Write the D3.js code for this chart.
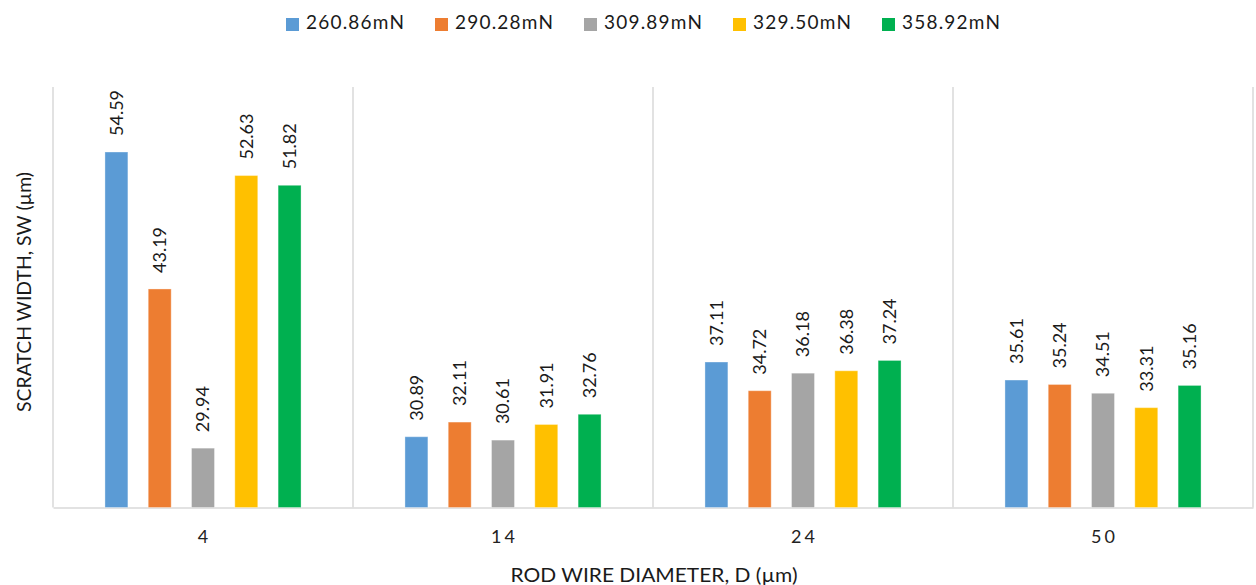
<!DOCTYPE html>
<html>
<head>
<meta charset="utf-8">
<script src="https://cdn.jsdelivr.net/npm/d3@7"></script>
<style>
  html, body { margin: 0; padding: 0; background: #fff; }
  svg { display: block; font-family: Lato, "Open Sans", sans-serif; }
</style>
</head>
<body>
<svg id="chart" width="1256" height="585"></svg>
<script>
// Rod wire diameters (µm) on the category axis
const categories = ["4", "14", "24", "50"];
// Applied normal loads, one bar series each
const seriesNames = ["260.86mN", "290.28mN", "309.89mN", "329.50mN", "358.92mN"];
const seriesColors = ["#5B9BD5", "#ED7D31", "#A5A5A5", "#FFC000", "#00B050"];
// Scratch width (µm) per load, ordered by diameter
const load260 = [54.59, 30.89, 37.11, 35.61];
const load290 = [43.19, 32.11, 34.72, 35.24];
const load309 = [29.94, 30.61, 36.18, 34.51];
const load329 = [52.63, 31.91, 36.38, 33.31];
const load358 = [51.82, 32.76, 37.24, 35.16];
const seriesValues = [load260, load290, load309, load329, load358];
const yDomain = [25, 60];

const svg = d3.select("#chart");
const plot = { left: 53, right: 1253, top: 87, bottom: 507.5 };
const gridColor = "#d9d9d9";

const x0 = d3.scaleBand().domain(categories).range([plot.left, plot.right]).padding(0);
const x1 = d3.scaleBand().domain(seriesNames).range([0, x0.bandwidth()])
  .paddingInner(0.47).paddingOuter(1.2);
const y = d3.scaleLinear().domain(yDomain).range([plot.bottom, plot.top]);

// Vertical separators between category groups
const bounds = categories.map(c => x0(c)).concat([x0(categories[categories.length - 1]) + x0.bandwidth()]);
svg.append("g").selectAll("line").data(bounds).join("line")
  .attr("x1", d => d).attr("x2", d => d)
  .attr("y1", plot.top).attr("y2", plot.bottom)
  .attr("stroke", gridColor).attr("stroke-width", 1.5);

// Category axis
const xAxis = svg.append("g")
  .attr("transform", `translate(0,${plot.bottom})`)
  .call(d3.axisBottom(x0).tickSize(0).tickPadding(0));
xAxis.select(".domain").attr("stroke", gridColor).attr("stroke-width", 1.5);
xAxis.selectAll(".tick text")
  .attr("y", 35)
  .attr("dy", 0)
  .attr("fill", "#222")
  .style("font-size", "18px")
  .style("letter-spacing", "3px")
  .attr("dx", "1.5px")
  .style("font-family", "Lato, 'Open Sans', sans-serif");

// Bars
const rows = categories.map((c, i) => ({
  cat: c,
  vals: seriesNames.map((s, j) => ({ s, j, v: seriesValues[j][i] }))
}));
const groups = svg.append("g").selectAll("g").data(rows).join("g")
  .attr("transform", d => `translate(${x0(d.cat)},0)`);

groups.selectAll("rect").data(d => d.vals).join("rect")
  .attr("x", d => x1(d.s))
  .attr("y", d => y(d.v))
  .attr("width", x1.bandwidth())
  .attr("height", d => y(yDomain[0]) - y(d.v))
  .attr("fill", d => seriesColors[d.j])
  .attr("stroke", "#fff").attr("stroke-opacity", 0.35).attr("stroke-width", 1);

// Value labels, rotated, above each bar
groups.selectAll("text").data(d => d.vals).join("text")
  .attr("transform", d => `translate(${x1(d.s) + x1.bandwidth() / 2},${y(d.v) - 16}) rotate(-90)`)
  .attr("dy", "0.36em")
  .attr("text-anchor", "start")
  .attr("fill", "#1a1a1a")
  .style("font-size", "18px")
  .text(d => d.v.toFixed(2));

// Legend
const legend = svg.append("g").selectAll("g").data(seriesNames).join("g")
  .attr("transform", (d, i) => `translate(${286 + i * 149},0)`);
legend.append("rect")
  .attr("x", 0).attr("y", 18).attr("width", 13).attr("height", 13)
  .attr("fill", (d, i) => seriesColors[i]);
legend.append("text")
  .attr("x", 20).attr("y", 29)
  .attr("fill", "#1a1a1a")
  .style("font-size", "19px")
  .attr("textLength", 98)
  .attr("lengthAdjust", "spacing")
  .text(d => d);

// Axis titles
svg.append("text")
  .attr("x", 654).attr("y", 582)
  .attr("text-anchor", "middle")
  .attr("fill", "#1a1a1a")
  .style("font-size", "19px")
  .attr("textLength", 287)
  .attr("lengthAdjust", "spacingAndGlyphs")
  .text("ROD WIRE DIAMETER, D (µm)");

svg.append("text")
  .attr("transform", "translate(24,292) rotate(-90)")
  .attr("dy", "0.36em")
  .attr("text-anchor", "middle")
  .attr("fill", "#1a1a1a")
  .style("font-size", "19px")
  .attr("textLength", 240)
  .attr("lengthAdjust", "spacingAndGlyphs")
  .text("SCRATCH WIDTH, SW (µm)");
</script>
</body>
</html>
